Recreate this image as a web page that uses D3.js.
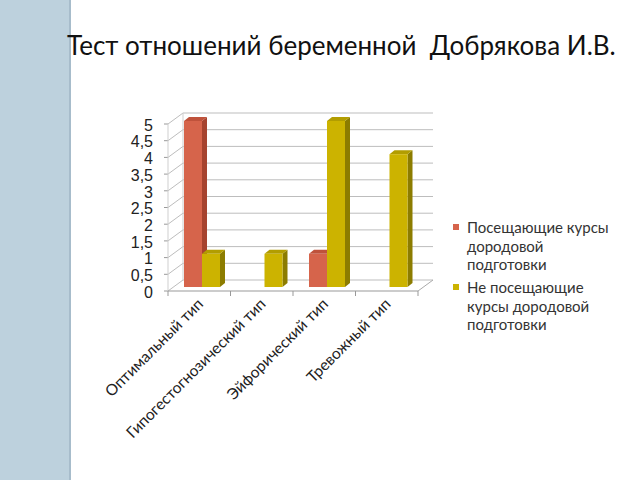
<!DOCTYPE html>
<html><head><meta charset="utf-8">
<script src="https://cdn.jsdelivr.net/npm/d3@7"></script>
<style>html,body{margin:0;padding:0;background:#fff;}svg{display:block;}</style>
</head><body>
<svg id="c" width="640" height="480"></svg>
<script>
const title = "Тест отношений беременной  Добрякова И.В.";
const categories = ["Оптимальный тип","Гипогестогнозический тип","Эйфорический тип","Тревожный тип"];
const seriesNames = ["Посещающие курсы дородовой подготовки","Не посещающие курсы дородовой подготовки"];
const legendLines = [["Посещающие курсы","дородовой","подготовки"],["Не посещающие","курсы дородовой","подготовки"]];
const attending = [5, 0, 1, 0];
const notAttending = [1, 1, 5, 4];
const yTicks = [0,0.5,1,1.5,2,2.5,3,3.5,4,4.5,5];
const yTickLabels = ["0","0,5","1","1,5","2","2,5","3","3,5","4","4,5","5"];

const colors = [
  {face:"#d6644b", side:"#a6432f", top:"#bf523b"},
  {face:"#ccb300", side:"#8c7c00", top:"#b29d00"}
];

const svg = d3.select("#c");
// left decorative strip
svg.append("rect").attr("x",0).attr("y",0).attr("width",70).attr("height",480).attr("fill","#bdd1dd");
svg.append("rect").attr("x",69).attr("y",0).attr("width",2).attr("height",480).attr("fill","#a7bccb");

svg.append("text").attr("x",67).attr("y",55).text(title)
  .style("white-space","pre")
  .attr("font-family","Lato, 'Open Sans', sans-serif").attr("font-size",26).attr("fill","#111");

// geometry
const x0 = 168, x1 = 418, depthX = 15, depthY = -11;
const yFront = d3.scaleLinear().domain([0,5]).range([291,124]);
const yBack = d3.scaleLinear().domain([0,5]).range([280,113]);
const yBar = d3.scaleLinear().domain([0,5]).range([287,121]);
const xCat = d3.scaleBand().domain(categories).range([x0,x1]).padding(0);
const xSer = d3.scaleBand().domain([0,1]).range([16,52]).padding(0);

const grid = svg.append("g");
yTicks.forEach(v=>{
  grid.append("line").attr("x1",x0+depthX).attr("x2",x1+depthX).attr("y1",yBack(v)).attr("y2",yBack(v))
    .attr("stroke","#bdbdbd").attr("stroke-width",1);
  grid.append("line").attr("x1",x0).attr("x2",x0+depthX).attr("y1",yFront(v)).attr("y2",yBack(v))
    .attr("stroke","#bdbdbd").attr("stroke-width",1);
  grid.append("line").attr("x1",x0-4).attr("x2",x0).attr("y1",yFront(v)).attr("y2",yFront(v))
    .attr("stroke","#999").attr("stroke-width",1);
});
grid.append("line").attr("x1",x0+depthX).attr("x2",x0+depthX).attr("y1",yBack(0)).attr("y2",yBack(5)).attr("stroke","#cfcfcf");
grid.append("line").attr("x1",x0).attr("x2",x0).attr("y1",yFront(0)).attr("y2",yFront(5)).attr("stroke","#cfcfcf");
// floor
grid.append("line").attr("x1",x0).attr("x2",x1).attr("y1",yFront(0)).attr("y2",yFront(0)).attr("stroke","#999");
grid.append("line").attr("x1",x1).attr("x2",x1+depthX).attr("y1",yFront(0)).attr("y2",yBack(0)).attr("stroke","#aaa");
[x0, ...categories.map(c=>xCat(c)+xCat.bandwidth())].forEach(x=>{
  grid.append("line").attr("x1",x).attr("x2",x).attr("y1",yFront(0)).attr("y2",yFront(0)+5).attr("stroke","#999");
});

// y labels
svg.append("g").selectAll("text").data(yTicks).join("text")
  .attr("x",153).attr("y",d=>yFront(d)+1).attr("dy","0.36em").attr("text-anchor","end")
  .attr("font-family","'Liberation Sans', Arial, sans-serif").attr("font-size",16).attr("fill","#222")
  .text((d,i)=>yTickLabels[i]);

// bars
const bars = svg.append("g");
const dx = 5, dy = 4;
categories.forEach((c,ci)=>{
  [attending[ci], notAttending[ci]].forEach((v,si)=>{
    if (v<=0) return;
    const bx0 = xCat(c)+xSer(si), bx1 = bx0+xSer.bandwidth();
    const yt = yBar(v), yb = yBar(0);
    const col = colors[si];
    bars.append("path").attr("d",`M${bx1},${yt}L${bx1+dx},${yt-dy}L${bx1+dx},${yb-dy}L${bx1},${yb}Z`).attr("fill",col.side);
    bars.append("path").attr("d",`M${bx0},${yt}L${bx0+dx},${yt-dy}L${bx1+dx},${yt-dy}L${bx1},${yt}Z`).attr("fill",col.top);
    bars.append("rect").attr("x",bx0).attr("y",yt).attr("width",bx1-bx0).attr("height",yb-yt).attr("fill",col.face);
  });
});

// x labels
svg.append("g").selectAll("text").data(categories).join("text")
  .attr("transform",d=>`translate(${xCat(d)+xCat.bandwidth()/2+5},${305}) rotate(-45)`)
  .attr("text-anchor","end")
  .attr("font-family","Lato, 'Open Sans', sans-serif").attr("font-size",15.5).attr("fill","#222")
  .text(d=>d);

// legend
const lg = svg.append("g");
const legY = [233, 293];
legendLines.forEach((lines,i)=>{
  lg.append("rect").attr("x",453).attr("y",legY[i]-9).attr("width",6).attr("height",6).attr("fill",colors[i].face);
  lines.forEach((t,j)=>{
    lg.append("text").attr("x",467).attr("y",legY[i]+j*18.5).text(t)
      .attr("font-family","Lato, 'Open Sans', sans-serif").attr("font-size",15).attr("fill","#333");
  });
});
</script>
</body></html>
